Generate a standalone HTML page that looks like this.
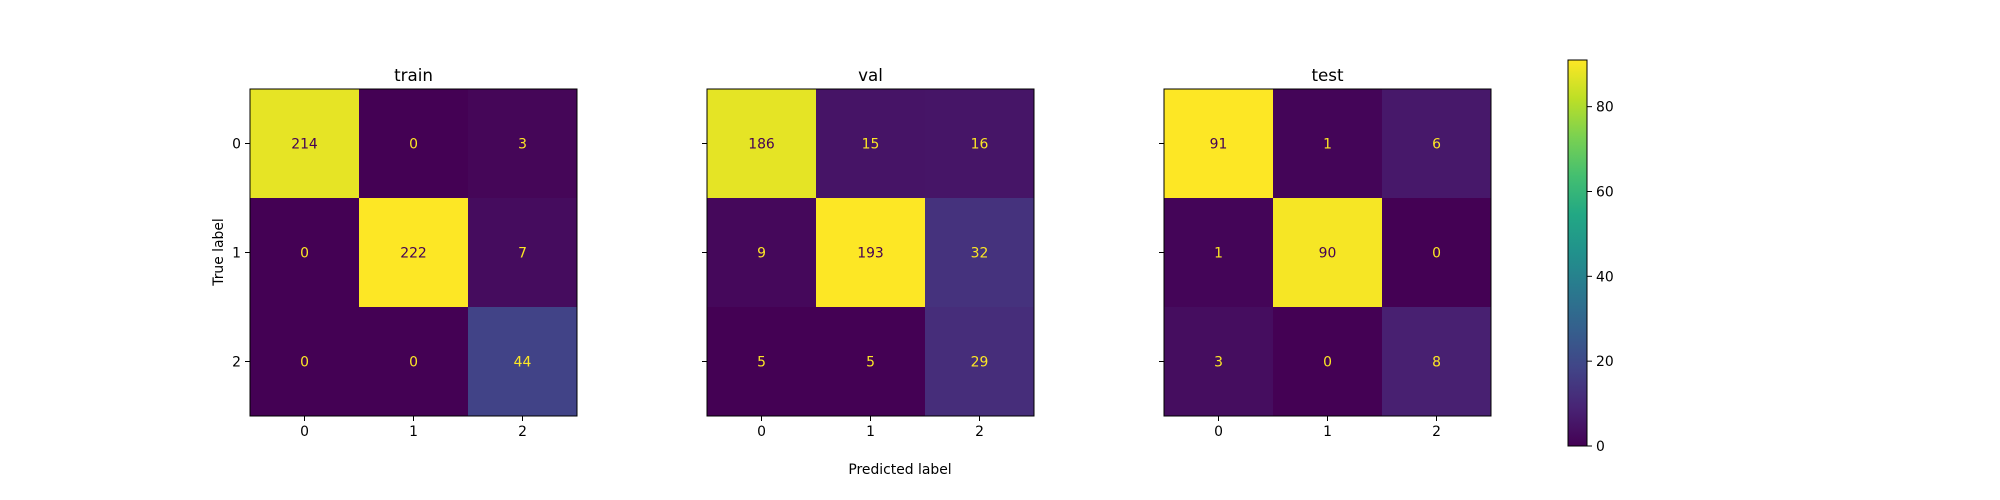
<!DOCTYPE html>
<html><head><meta charset="utf-8"><style>
html,body{margin:0;padding:0;background:#fff}
svg{display:block;font-family:"DejaVu Sans","Liberation Sans",sans-serif}
</style></head><body>
<svg id="fig" width="2000" height="500" viewBox="0 0 2000 500" xmlns="http://www.w3.org/2000/svg"></svg>
<script>
const titles = ["train","val","test"];
const classes = ["0","1","2"];
const trainValues = [[214,0,3],[0,222,7],[0,0,44]];
const valValues = [[186,15,16],[9,193,32],[5,5,29]];
const testValues = [[91,1,6],[1,90,0],[3,0,8]];
const colorbarTicks = [0,20,40,60,80];

const NS="http://www.w3.org/2000/svg";
const svgRoot=document.getElementById('fig');
const stops=["#440154","#482475","#414487","#355f8d","#2a788e","#21918c","#22a884","#44bf70","#7ad151","#bddf26","#fde725"];
function hx(c){return [parseInt(c.substr(1,2),16),parseInt(c.substr(3,2),16),parseInt(c.substr(5,2),16)];}
function viridis(t){t=Math.max(0,Math.min(1,t));const p=t*10;const i=Math.min(9,Math.floor(p));const f=p-i;const a=hx(stops[i]),b=hx(stops[i+1]);
return "rgb("+a.map((v,k)=>Math.round(v+(b[k]-v)*f)).join(",")+")";}
function el(tag,attrs,parent){const e=document.createElementNS(NS,tag);for(const k in attrs)e.setAttribute(k,attrs[k]);(parent||svgRoot).appendChild(e);return e;}

const panels=[trainValues,valValues,testValues];
const lefts=[250,707,1164];
const axTop=89, axSize=327;
panels.forEach((m,p)=>{
  const g=el('g',{});
  
  
  const x0=lefts[p], cw=axSize/3;
  const flat=m.flat(); const mx=Math.max(...flat), mn=Math.min(...flat);
  const xs=j=>x0+cw*(j+0.5), ys=i=>axTop+cw*(i+0.5);
  for(let i=0;i<3;i++)for(let j=0;j<3;j++){
    const v=m[i][j]; const t=(v-mn)/(mx-mn);
    const r=el('rect',{x:x0+cw*j,y:axTop+cw*i,width:cw+0.5,height:cw+0.5,fill:viridis(t)},g);
    
    
    const tx=el('text',{x:xs(j),y:ys(i)+5,'text-anchor':'middle','font-size':'13.9',fill:(v>(mx+mn)/2)?viridis(0):viridis(1)},g);
    tx.textContent=v;
    
    
  }
  const fr=el('rect',{x:x0,y:axTop,width:axSize,height:axSize,fill:'none',stroke:'#000','stroke-width':1},g);
  
  
  const tt=el('text',{x:x0+axSize/2,y:axTop-8,'text-anchor':'middle','font-size':'16.7',fill:'#000'},g);
  tt.textContent=titles[p];
  
  
  classes.forEach((c,k)=>{
    el('line',{x1:xs(k),x2:xs(k),y1:axTop+axSize,y2:axTop+axSize+5,stroke:'#000'},g);
    const xl=el('text',{x:xs(k),y:axTop+axSize+20,'text-anchor':'middle','font-size':'13.9'},g);
    xl.textContent=c;
    
    
    el('line',{x1:x0-5,x2:x0,y1:ys(k),y2:ys(k),stroke:'#000'},g);
    if(p===0){const yl=el('text',{x:x0-9,y:ys(k)+5,'text-anchor':'end','font-size':'13.9'},g);
      yl.textContent=c;
      
      }
  });
});
const yt=el('text',{x:0,y:0,'text-anchor':'middle','font-size':'13.9',transform:'translate(223,252) rotate(-90)'});
yt.textContent="True label";


const xt=el('text',{x:900,y:474,'text-anchor':'middle','font-size':'13.9'});
xt.textContent="Predicted label";



const cbMax=Math.max(...testValues.flat()), cbMin=Math.min(...testValues.flat());
const cbX=1568,cbW=19,cbTop=60,cbBot=446;
const cy=v=>cbBot-(v-cbMin)/(cbMax-cbMin)*(cbBot-cbTop);
const defs=el('defs',{});
const lg=el('linearGradient',{id:'vg',x1:0,y1:1,x2:0,y2:0},defs);
stops.forEach((s,i)=>el('stop',{offset:i/10,'stop-color':s},lg));
const cb=el('rect',{x:cbX,y:cbTop,width:cbW,height:cbBot-cbTop,fill:'url(#vg)',stroke:'#000','stroke-width':1});


colorbarTicks.forEach(v=>{
  el('line',{x1:cbX+cbW,x2:cbX+cbW+5,y1:cy(v),y2:cy(v),stroke:'#000'});
  const t=el('text',{x:cbX+cbW+9,y:cy(v)+5,'font-size':'13.9'});
  t.textContent=v;
  
  
});
</script>
</body></html>
